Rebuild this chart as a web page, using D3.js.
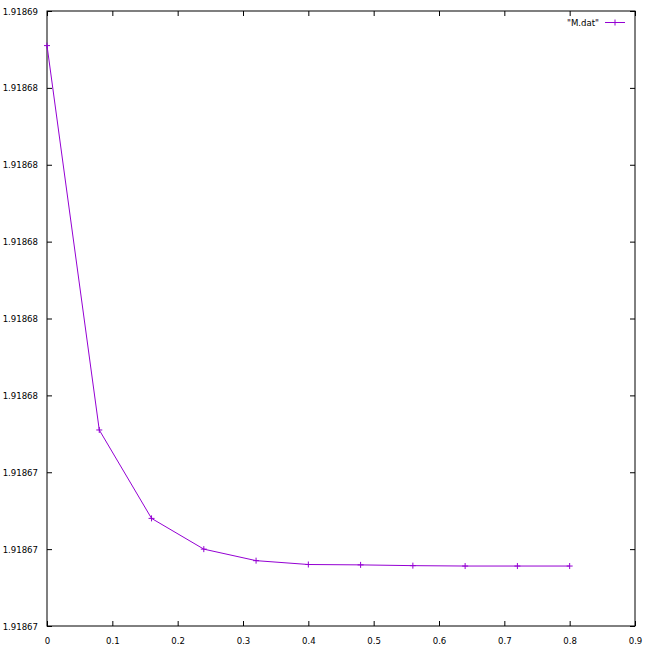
<!DOCTYPE html>
<html>
<head>
<meta charset="utf-8">
<script src="https://cdn.jsdelivr.net/npm/d3@7"></script>
<style>
  body { margin: 0; background: #fff; }
  text { font-family: "DejaVu Sans Condensed", "DejaVu Sans", sans-serif; font-size: 9.5px; fill: #000; }
</style>
</head>
<body>
<div id="chart"></div>
<script>
// data
var xs = [0, 0.08, 0.16, 0.24, 0.32, 0.40, 0.48, 0.56, 0.64, 0.72, 0.80];
var ys = [1.9186851, 1.9186751, 1.9186728, 1.9186720, 1.9186717, 1.9186716,
          1.91867159, 1.91867157, 1.91867156, 1.91867156, 1.91867156];
var xTicks = [0, 0.1, 0.2, 0.3, 0.4, 0.5, 0.6, 0.7, 0.8, 0.9];
var yTicks = [1.918670, 1.918672, 1.918674, 1.918676, 1.918678, 1.918680, 1.918682, 1.918684, 1.918686];
var seriesName = '"M.dat"';

var W = 650, H = 650;
var margin = {top: 11, right: 15, bottom: 24, left: 47};
var width = W - margin.left - margin.right,
    height = H - margin.top - margin.bottom;
var color = "#9400d3";
var font = "DejaVu Sans Condensed, DejaVu Sans, sans-serif";

var svg = d3.select("#chart").append("svg")
    .attr("width", W).attr("height", H);
var g = svg.append("g")
    .attr("transform", "translate(" + margin.left + "," + margin.top + ")");

var x = d3.scaleLinear().domain([0, 0.9]).range([0, width]);
var y = d3.scaleLinear().domain([1.918670, 1.918686]).range([height, 0]);

// axes, ticks pointing inward like gnuplot, mirrored on top/right
var fmtX = d3.format("");
var fmtY = d3.format(".6");
function styleAxis(sel) {
  sel.select(".domain").remove();
  sel.selectAll(".tick line").attr("stroke", "#000");
  sel.selectAll(".tick text").style("font-family", font).style("font-size", "9.5px");
}
g.append("g").attr("transform", "translate(0," + height + ")")
  .call(d3.axisBottom(x).tickValues(xTicks).tickFormat(fmtX).tickSizeInner(-5).tickSizeOuter(0).tickPadding(11))
  .call(styleAxis);
g.append("g")
  .call(d3.axisTop(x).tickValues(xTicks).tickFormat("").tickSizeInner(-5).tickSizeOuter(0))
  .call(styleAxis);
g.append("g")
  .call(d3.axisLeft(y).tickValues(yTicks).tickFormat(fmtY).tickSizeInner(-5).tickSizeOuter(0).tickPadding(9))
  .call(styleAxis);
g.append("g").attr("transform", "translate(" + width + ",0)")
  .call(d3.axisRight(y).tickValues(yTicks).tickFormat("").tickSizeInner(-5).tickSizeOuter(0))
  .call(styleAxis);

// border
g.append("rect").attr("x", 0).attr("y", 0).attr("width", width).attr("height", height)
  .attr("fill", "none").attr("stroke", "#000").attr("stroke-width", 1);

// line
var pts = xs.map(function(d, i) { return [d, ys[i]]; });
g.append("path").datum(pts)
  .attr("fill", "none").attr("stroke", color).attr("stroke-width", 1)
  .attr("d", d3.line().x(function(d) { return x(d[0]); }).y(function(d) { return y(d[1]); }));

// + markers
function plus(sel, s) {
  sel.append("line").attr("x1", -s).attr("x2", s).attr("y1", 0).attr("y2", 0);
  sel.append("line").attr("x1", 0).attr("x2", 0).attr("y1", -s).attr("y2", s);
}
g.selectAll(".pt").data(pts).enter().append("g")
  .attr("class", "pt")
  .attr("transform", function(d) { return "translate(" + x(d[0]) + "," + y(d[1]) + ")"; })
  .attr("stroke", color).attr("stroke-width", 1)
  .each(function() { plus(d3.select(this), 3); });

// legend
var lg = svg.append("g");
lg.append("text").attr("x", 599).attr("y", 26).attr("text-anchor", "end").text(seriesName);
lg.append("line").attr("x1", 605).attr("x2", 625).attr("y1", 22.5).attr("y2", 22.5)
  .attr("stroke", color).attr("stroke-width", 1);
lg.append("g").attr("transform", "translate(615,22.5)").attr("stroke", color)
  .each(function() { plus(d3.select(this), 3); });
</script>
</body>
</html>
